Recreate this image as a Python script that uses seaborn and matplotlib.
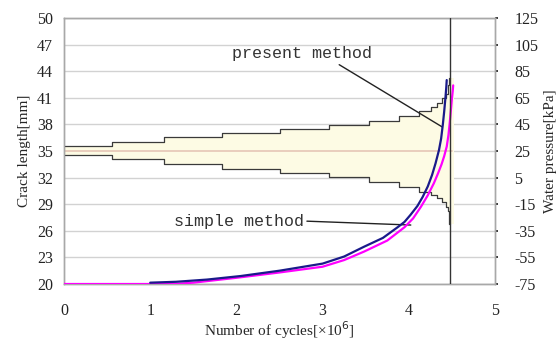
import matplotlib
matplotlib.use("Agg")
import matplotlib.pyplot as plt
import seaborn as sns
import pandas as pd

# Crack growth curves: cycles [x10^6] vs crack length [mm]
present_cycles = [1.0, 1.3, 1.66, 2.05, 2.5, 3.0, 3.25, 3.48, 3.7, 3.87, 3.95, 4.02,
                  4.10, 4.16, 4.22, 4.27, 4.31, 4.35, 4.375, 4.395, 4.41, 4.425, 4.435, 4.44]
present_crack = [20.15, 20.25, 20.5, 20.9, 21.5, 22.3, 23.1, 24.2, 25.2, 26.4, 27.0, 27.8,
                 28.8, 29.8, 31.0, 32.3, 33.6, 35.1, 36.4, 38.0, 39.4, 41.0, 42.2, 43.0]

simple_cycles = [0.0, 1.27, 1.5, 2.0, 2.5, 3.0, 3.25, 3.48, 3.75, 3.95, 4.05, 4.14,
                 4.22, 4.29, 4.34, 4.38, 4.41, 4.44, 4.46, 4.475, 4.49, 4.50, 4.51, 4.515]
simple_crack = [20.0, 20.0, 20.15, 20.7, 21.3, 21.95, 22.7, 23.65, 24.9, 26.4, 27.4, 28.7,
                30.0, 31.35, 32.5, 33.5, 34.4, 35.5, 36.8, 38.2, 39.8, 40.9, 41.8, 42.4]

# Water pressure envelope [kPa], stepwise in cycles
band_cycles = [0.0, 0.556, 1.163, 1.833, 2.50, 3.08, 3.54, 3.89, 4.12, 4.26, 4.33,
               4.38, 4.43, 4.45, 4.47, 4.48]
band_upper = [28.4, 31.5, 35.3, 38.6, 41.4, 44.4, 47.9, 51.4, 55.1, 58.3, 61.3,
              64.5, 68.0, 75.0, 80.0, 80.0]
band_lower = [21.7, 18.7, 14.9, 11.2, 8.2, 5.3, 1.8, -1.9, -5.6, -8.1, -10.6,
              -13.1, -16.9, -20.0, -30.0, -30.0]
band_mid = 25.0
failure_cycles = 4.477

x_ticks = [0, 1, 2, 3, 4, 5]
crack_ticks = [20, 23, 26, 29, 32, 35, 38, 41, 44, 47, 50]
pressure_ticks = [-75, -55, -35, -15, 5, 25, 45, 65, 85, 105, 125]

sns.set_theme(style="white")
plt.rcParams["font.family"] = ["Liberation Serif", "DejaVu Serif"]

fig = plt.figure(figsize=(5.58, 3.40), dpi=100)
ax_p = fig.add_axes([64 / 558, 1 - 284 / 340, 431 / 558, 266 / 340])
ax_c = ax_p.twinx()

# pressure axis on the right, crack axis on the left (curves drawn above the band)
ax_p.yaxis.tick_right()
ax_p.yaxis.set_label_position("right")
ax_c.yaxis.tick_left()
ax_c.yaxis.set_label_position("left")

band = pd.DataFrame({"cycles": band_cycles, "upper": band_upper, "lower": band_lower})
fill_x = band_cycles[:-1] + [4.52]
ax_p.fill_between(fill_x, band_lower, band_upper, step="post", color="#fdfbe4", lw=0, zorder=1)
ax_p.plot([0, 4.5], [band_mid, band_mid], color="#e6c6b6", lw=1.2, zorder=2)
for col in ["upper", "lower"]:
    sns.lineplot(data=band, x="cycles", y=col, ax=ax_p, color="#3a3a3a", lw=0.9,
                 drawstyle="steps-post", sort=False, estimator=None, zorder=3)

ax_p.set_xlim(0, 5)
ax_p.set_ylim(-75, 125)
ax_p.set_yticks(pressure_ticks)
ax_p.set_yticklabels([str(t) for t in pressure_ticks])
ax_p.set_xticks(x_ticks)
ax_p.set_xticklabels([str(t) for t in x_ticks])
ax_p.grid(axis="y", color="#d2d2d2", lw=1.0)
ax_p.grid(axis="x", visible=False)
ax_p.set_axisbelow(True)
ax_p.set_xlabel("Number of cycles[×10$^6$]", fontsize=11, labelpad=0)
ax_p.set_ylabel("Water pressure[kPa]", fontsize=11, labelpad=4)
ax_p.tick_params(axis="y", length=2, pad=12, labelsize=11.5, colors="#222222")
ax_p.tick_params(axis="x", direction="in", length=3, pad=14, labelsize=11.5,
                 colors="#222222", color="#b0b0b0")

curves = pd.DataFrame({"cycles": simple_cycles, "crack": simple_crack})
curves_p = pd.DataFrame({"cycles": present_cycles, "crack": present_crack})
sns.lineplot(data=curves, x="cycles", y="crack", ax=ax_c, color="#ff00ff", lw=1.6,
             sort=False, estimator=None, zorder=4)
sns.lineplot(data=curves_p, x="cycles", y="crack", ax=ax_c, color="#1a1a8a", lw=1.6,
             sort=False, estimator=None, zorder=5)
ax_c.axvline(failure_cycles, color="#333333", lw=1.0, zorder=6)

ax_c.set_xlim(0, 5)
ax_c.set_ylim(20, 50)
ax_c.set_yticks(crack_ticks)
ax_c.set_yticklabels([str(t) for t in crack_ticks])
ax_c.set_ylabel("Crack length[mm]", fontsize=11, labelpad=4)
ax_c.set_xlabel("")
ax_c.tick_params(axis="y", length=0, pad=8, labelsize=11.5, colors="#222222")
ax_c.grid(False)

mono = dict(family=["Liberation Mono", "DejaVu Sans Mono"], fontsize=12, color="#333333")
ax_c.annotate("present method", xy=(4.39, 37.7), xytext=(2.756, 45.95),
              ha="center", va="center", textcoords="data", **mono,
              arrowprops=dict(arrowstyle="-", color="#222222", lw=1.0,
                              shrinkA=0, shrinkB=0, relpos=(0.73, 0.0)))
ax_c.annotate("simple method", xy=(4.023, 26.65), xytext=(2.78, 27.1),
              ha="right", va="center", textcoords="data", **mono,
              arrowprops=dict(arrowstyle="-", color="#222222", lw=1.0,
                              shrinkA=0, shrinkB=0, relpos=(1.0, 0.5)))

for ax in (ax_p, ax_c):
    for s in ax.spines.values():
        s.set_color("#a8a8a8")
        s.set_linewidth(1.0)

fig.savefig("out.png", dpi=100)
